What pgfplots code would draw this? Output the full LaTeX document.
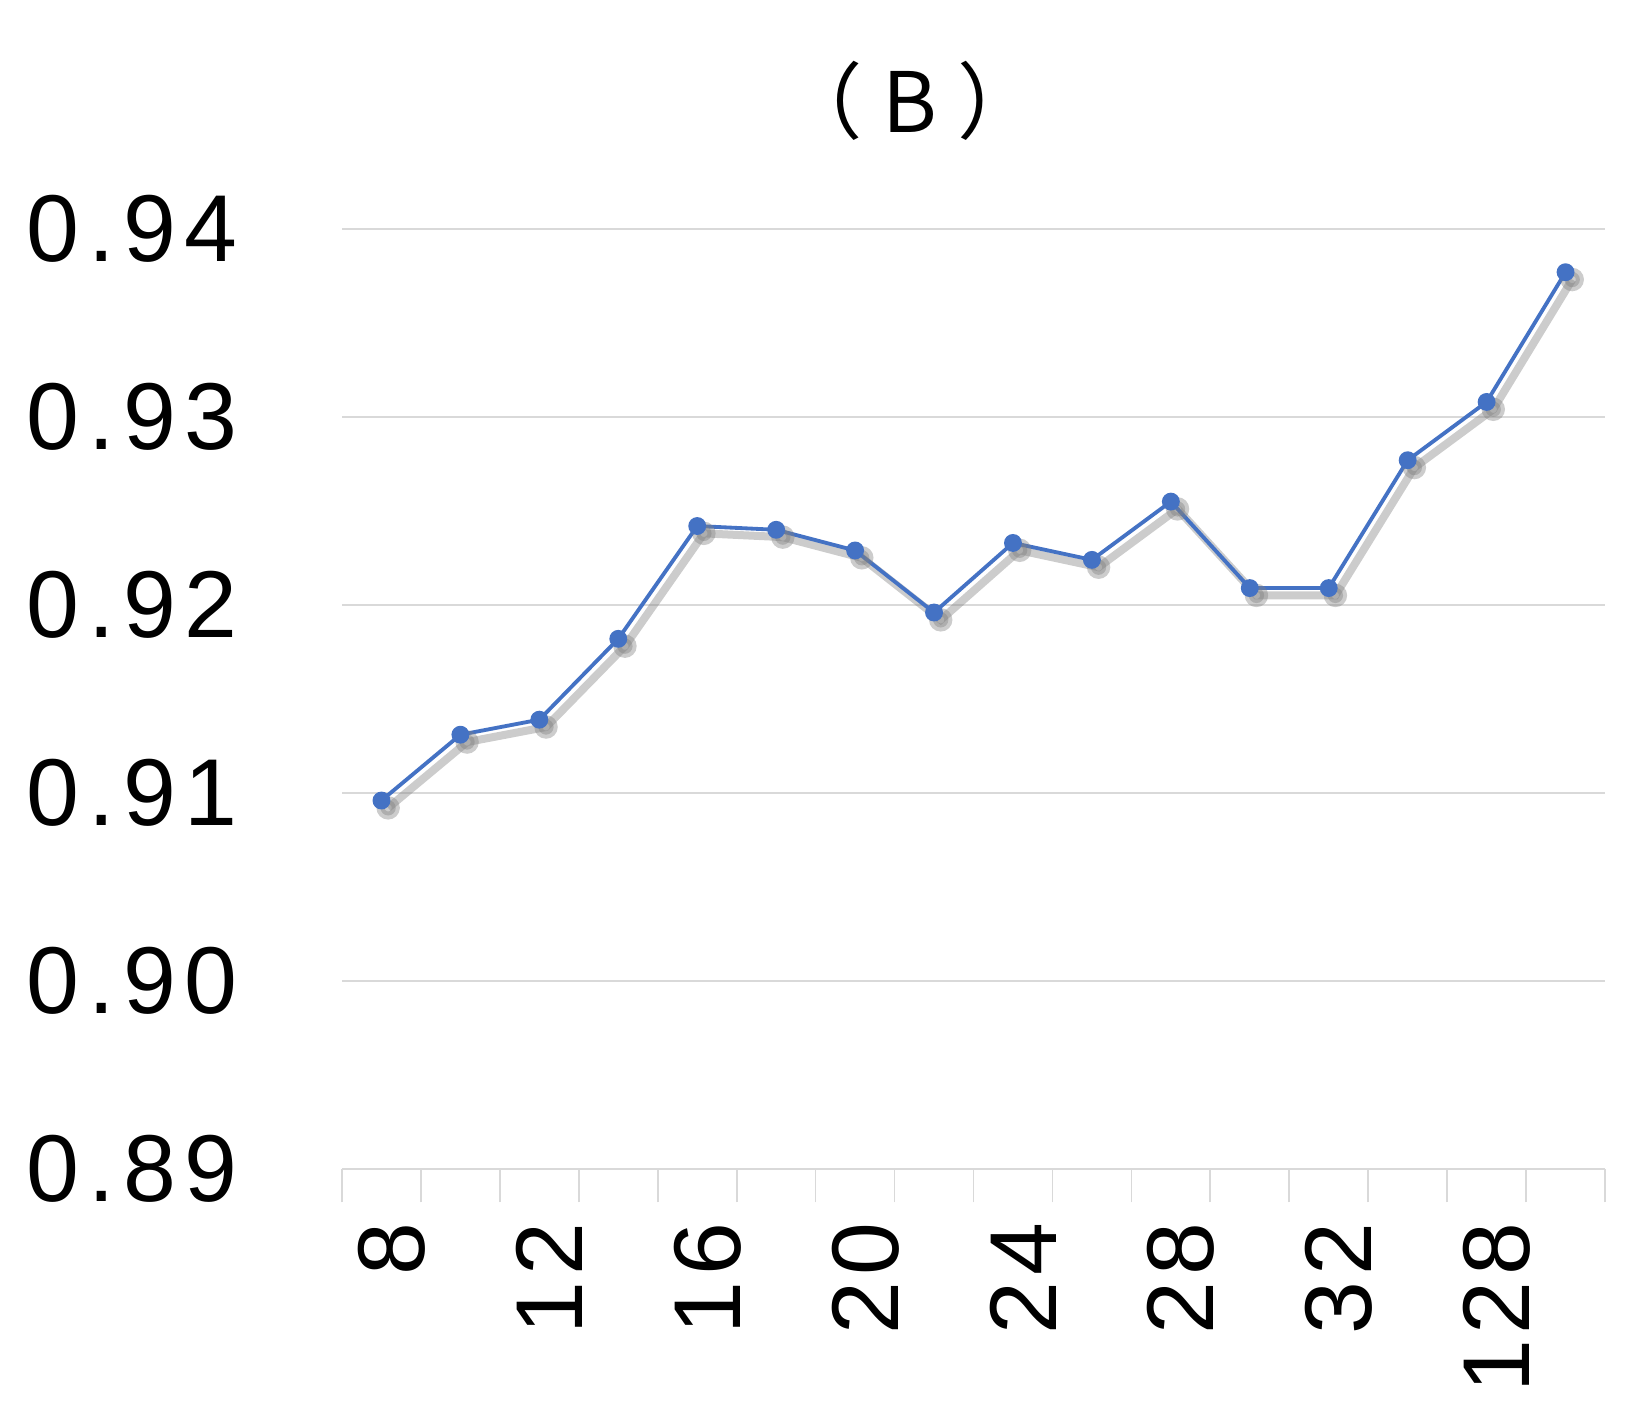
\documentclass[border=0pt]{standalone}
\usepackage{pgfplots}
\pgfplotsset{compat=1.18}
\usepackage{fontspec}
\setmainfont{Liberation Sans}
\newfontfamily\tickfont[LetterSpace=9]{Liberation Sans}
\newfontfamily\xtickfont[LetterSpace=6]{Liberation Sans}
\newfontfamily\cjk{Noto Sans CJK SC}
\definecolor{excelblue}{HTML}{4472C4}
\definecolor{gridgray}{HTML}{D9D9D9}
\begin{document}
\begin{tikzpicture}
\begin{axis}[
  name=ax,
  scale only axis,
  width=378.9pt, height=282pt,
  xmin=0.5, xmax=16.5,
  ymin=0.89, ymax=0.94,
  clip=false,
  axis lines*=left,
  x axis line style={draw=gridgray, line width=0.5pt},
  y axis line style={draw=none},
  ytick={0.89,0.90,0.91,0.92,0.93,0.94},
  ymajorgrids,
  grid style={draw=gridgray, line width=0.5pt},
  ytick style={draw=none},
  xtick={1,3,5,7,9,11,13,15},
  xticklabels={8,12,16,20,24,28,32,128},
  minor xtick={0.5,1.5,...,16.5},
  tick align=outside,
  major tick length=0pt,
  minor tick length=10pt,
  xtick style={draw=gridgray, line width=0.5pt},
  minor tick style={draw=gridgray, line width=0.5pt},
  xticklabel style={font=\xtickfont\fontsize{28.5}{30}\selectfont, xshift=3.1pt, rotate=90, anchor=east, inner sep=0pt},
  xticklabel shift=16pt,
  yticklabel style={font=\tickfont\fontsize{28.5}{30}\selectfont, anchor=east, inner sep=0pt},
  yticklabel shift=31.2pt,
  /pgf/number format/.cd, fixed, fixed zerofill, precision=2, assume math mode=true,
]
\addplot[gray, opacity=0.4, line width=2.4pt, xshift=2pt, yshift=-2.2pt,
  mark=*, mark size=2.3pt, mark options={fill=gray, draw=gray}] coordinates {
(1,0.9096) (2,0.9131) (3,0.9139) (4,0.9182) (5,0.9242) (6,0.9240) (7,0.9229) (8,0.9196)
(9,0.9233) (10,0.9224) (11,0.9255) (12,0.9209) (13,0.9209) (14,0.9277) (15,0.9308) (16,0.9377)
};
\addplot[excelblue, line width=1.15pt, mark=*, mark size=2.1pt,
  mark options={fill=excelblue, draw=excelblue}] coordinates {
(1,0.9096) (2,0.9131) (3,0.9139) (4,0.9182) (5,0.9242) (6,0.9240) (7,0.9229) (8,0.9196)
(9,0.9233) (10,0.9224) (11,0.9255) (12,0.9209) (13,0.9209) (14,0.9277) (15,0.9308) (16,0.9377)
};
\node[font=\cjk\fontsize{25}{27}\selectfont, anchor=center] at (rel axis cs:0.45,1.136) {（\hspace{6pt}B\hspace{6pt}）};
\end{axis}
\pgfresetboundingbox
\useasboundingbox ([shift={(-102.6pt,-71.1pt)}]ax.south west) rectangle ([shift={(9.6pt,68.7pt)}]ax.north east);
\end{tikzpicture}
\end{document}
